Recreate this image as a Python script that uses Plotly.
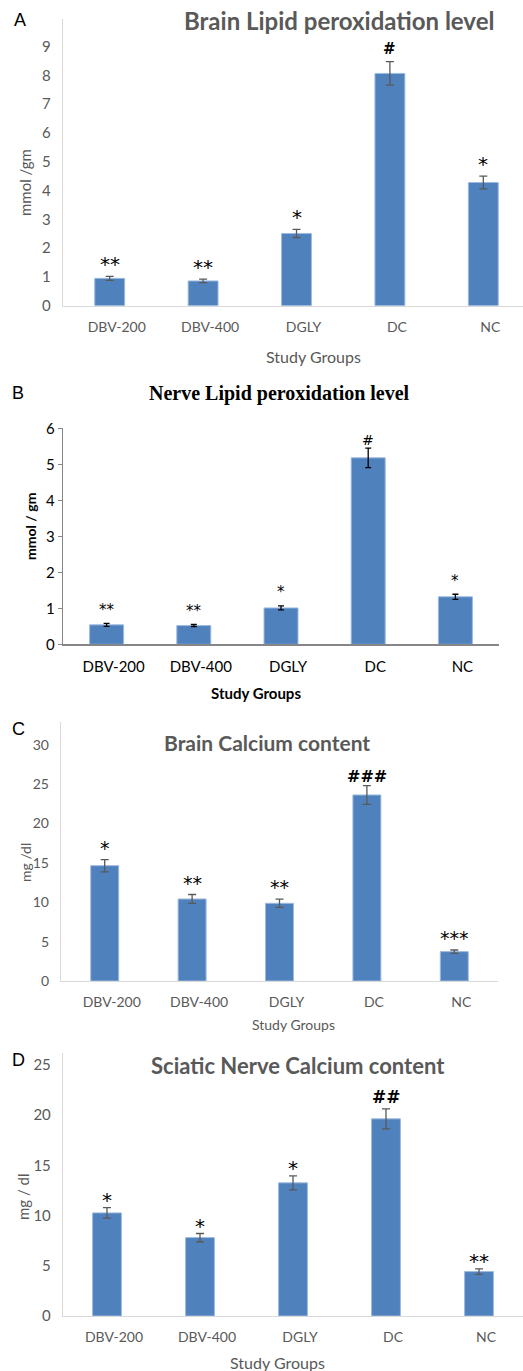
import plotly.graph_objects as go

groups = ["DBV-200", "DBV-400", "DGLY", "DC", "NC"]

brain_lpo = [0.95, 0.86, 2.51, 8.07, 4.28]
brain_lpo_err = [0.07, 0.06, 0.14, 0.41, 0.22]
brain_lpo_sig = ["**", "**", "*", "#", "*"]

nerve_lpo = [0.54, 0.52, 1.01, 5.18, 1.32]
nerve_lpo_err = [0.04, 0.03, 0.055, 0.27, 0.07]
nerve_lpo_sig = ["**", "**", "*", "#", "*"]

brain_ca = [14.65, 10.42, 9.87, 23.63, 3.73]
brain_ca_err = [0.78, 0.57, 0.53, 1.19, 0.21]
brain_ca_sig = ["*", "**", "**", "###", "***"]

nerve_ca = [10.26, 7.80, 13.25, 19.62, 4.42]
nerve_ca_err = [0.53, 0.41, 0.70, 1.00, 0.27]
nerve_ca_sig = ["*", "*", "*", "##", "**"]

W, H = 523, 1371
BAR = "#4F81BD"
GRAY = "#595959"
SANS = "Lato, Carlito, 'Open Sans', sans-serif"
STAR_FONT = "'DejaVu Sans', sans-serif"


def px(x):
    return x / W


def py(y):
    return 1 - y / H


panels = [
    dict(key="A", vals=brain_lpo, err=brain_lpo_err, sig=brain_lpo_sig,
         xdom=(63, 523), xr=(-0.5, 4.425), ydom=(19, 305.7), yr=(0, 9.96), dtick=1,
         bw=0.32, ecol=GRAY, axcol="#d9d9d9", tickcol=GRAY, tsize=15, xtsize=14,
         star_size=20, hash_size=15, hash_bold=True, star_gap=17, hash_gap=13, ywidth=4,
         title="<b>Brain Lipid peroxidation level</b>", title_xy=(339, 21), title_font=SANS,
         title_size=24, title_col=GRAY,
         ytitle="mmol /gm", ytitle_xy=(25, 183), ytitle_font=dict(size=15, color=GRAY, family=SANS),
         xtitle="Study Groups", xtitle_xy=(313, 356), xtitle_font=dict(size=16, color=GRAY, family=SANS),
         letter_xy=(20, 20), yticks=False),
    dict(key="B", vals=nerve_lpo, err=nerve_lpo_err, sig=nerve_lpo_sig,
         xdom=(63, 499), xr=(-0.5, 4.5), ydom=(428.3, 644.3), yr=(0, 6), dtick=1,
         bw=0.39, ecol="#000000", axcol="#868686", tickcol="#000000", tsize=15, xtsize=15,
         star_size=15, hash_size=14, hash_bold=False, star_gap=17, hash_gap=8, ywidth=3,
         title="<b>Nerve Lipid peroxidation level</b>", title_xy=(279, 393),
         title_font="'Liberation Serif', 'Times New Roman', serif",
         title_size=20, title_col="#000000",
         ytitle="<b>mmol / gm</b>", ytitle_xy=(30, 527), ytitle_font=dict(size=14, color="#000000", family=SANS),
         xtitle="<b>Study Groups</b>", xtitle_xy=(256, 693), xtitle_font=dict(size=15, color="#000000", family=SANS),
         letter_xy=(18, 393), yticks=True),
    dict(key="C", vals=brain_ca, err=brain_ca_err, sig=brain_ca_sig,
         xdom=(61, 498), xr=(-0.5, 4.5), ydom=(722, 981), yr=(0, 32.9), dtick=5,
         bw=0.32, ecol=GRAY, axcol="#d9d9d9", tickcol=GRAY, tsize=14, xtsize=14,
         star_size=19, hash_size=16, hash_bold=True, star_gap=16, hash_gap=9, ywidth=4,
         title="<b>Brain Calcium content</b>", title_xy=(267, 742), title_font=SANS,
         title_size=21, title_col=GRAY,
         ytitle="mg /dl", ytitle_xy=(25, 863), ytitle_font=dict(size=14, color=GRAY, family=SANS),
         xtitle="Study Groups", xtitle_xy=(293, 1024), xtitle_font=dict(size=14, color=GRAY, family=SANS),
         letter_xy=(18, 729), yticks=False),
    dict(key="D", vals=nerve_ca, err=nerve_ca_err, sig=nerve_ca_sig,
         xdom=(63, 523), xr=(-0.473, 4.473), ydom=(1052.7, 1316), yr=(0, 26.2), dtick=5,
         bw=0.31, ecol=GRAY, axcol="#d9d9d9", tickcol=GRAY, tsize=15, xtsize=14,
         star_size=20, hash_size=17, hash_bold=True, star_gap=12, hash_gap=12, ywidth=4,
         title="<b>Sciatic Nerve Calcium content</b>", title_xy=(298, 1065), title_font=SANS,
         title_size=22, title_col=GRAY,
         ytitle="mg / dl", ytitle_xy=(23, 1197), ytitle_font=dict(size=15, color=GRAY, family=SANS),
         xtitle="Study Groups", xtitle_xy=(277, 1362), xtitle_font=dict(size=16, color=GRAY, family=SANS),
         letter_xy=(18, 1060), yticks=False),
]

fig = go.Figure()
annotations = []
layout = {}

for i, p in enumerate(panels, start=1):
    xa = "x" if i == 1 else f"x{i}"
    ya = "y" if i == 1 else f"y{i}"
    xkey = "xaxis" if i == 1 else f"xaxis{i}"
    ykey = "yaxis" if i == 1 else f"yaxis{i}"

    fig.add_trace(go.Bar(
        x=groups, y=p["vals"], width=p["bw"],
        marker=dict(color=BAR, line=dict(color="#9dbbe0", width=1)),
        error_y=dict(type="data", array=p["err"], visible=True,
                     color=p["ecol"], thickness=1.3, width=p["ywidth"]),
        xaxis=xa, yaxis=ya, showlegend=False, hoverinfo="skip",
    ))

    layout[xkey] = dict(
        domain=[px(p["xdom"][0]), px(p["xdom"][1])], range=list(p["xr"]),
        anchor=ya, showgrid=False, zeroline=False, showline=True, automargin=False,
        linecolor=p["axcol"], linewidth=1.2, fixedrange=True,
        ticks="outside", ticklen=8, tickcolor="rgba(0,0,0,0)",
        ticklabelshift=7,
        tickfont=dict(family=SANS, size=p["xtsize"], color=p["tickcol"]),
        categoryorder="array", categoryarray=groups,
    )
    layout[ykey] = dict(
        domain=[py(p["ydom"][1]), py(p["ydom"][0])], range=list(p["yr"]),
        anchor=xa, showgrid=False, zeroline=False, showline=True, automargin=False,
        linecolor=p["axcol"], linewidth=1.2, fixedrange=True,
        dtick=p["dtick"], tick0=0,
        ticks="outside", ticklen=4 if p["yticks"] else 8,
        tickcolor=p["axcol"] if p["yticks"] else "rgba(0,0,0,0)",
        tickfont=dict(family=SANS, size=p["tsize"], color=p["tickcol"]),
    )

    for g, v, e, s in zip(groups, p["vals"], p["err"], p["sig"]):
        is_hash = "#" in s
        size = p["hash_size"] if is_hash else p["star_size"]
        # star glyph sits high in the line box; compensate so its centre lands at the gap
        shift = p["hash_gap"] if is_hash else p["star_gap"] - 0.22 * size
        txt = f"<b>{s}</b>" if (is_hash and p["hash_bold"]) else s
        annotations.append(dict(
            x=g, y=v + e, xref=xa, yref=ya, text=txt, showarrow=False,
            yanchor="middle", yshift=shift,
            font=dict(family=STAR_FONT, size=size, color="#000000"),
        ))

    annotations.append(dict(
        x=px(p["title_xy"][0]), y=py(p["title_xy"][1]), xref="paper", yref="paper",
        text=p["title"], showarrow=False, xanchor="center", yanchor="middle",
        font=dict(family=p["title_font"], size=p["title_size"], color=p["title_col"]),
    ))
    annotations.append(dict(
        x=px(p["ytitle_xy"][0]), y=py(p["ytitle_xy"][1]), xref="paper", yref="paper",
        text=p["ytitle"], textangle=-90, showarrow=False,
        xanchor="center", yanchor="middle", font=p["ytitle_font"],
    ))
    annotations.append(dict(
        x=px(p["xtitle_xy"][0]), y=py(p["xtitle_xy"][1]), xref="paper", yref="paper",
        text=p["xtitle"], showarrow=False,
        xanchor="center", yanchor="middle", font=p["xtitle_font"],
    ))
    annotations.append(dict(
        x=px(p["letter_xy"][0]), y=py(p["letter_xy"][1]), xref="paper", yref="paper",
        text=p["key"], showarrow=False,
        xanchor="center", yanchor="middle",
        font=dict(family="'Liberation Sans', Arial, sans-serif", size=18, color="#000000"),
    ))

fig.update_layout(
    width=W, height=H, autosize=False,
    margin=dict(l=0, r=0, t=0, b=0, pad=0, autoexpand=False),
    paper_bgcolor="white", plot_bgcolor="white",
    annotations=annotations,
    **layout,
)

fig.write_html(
    "out.html",
    config={"displayModeBar": False, "staticPlot": True},
    post_script="document.body.style.margin='0';document.body.style.overflow='hidden';",
)
